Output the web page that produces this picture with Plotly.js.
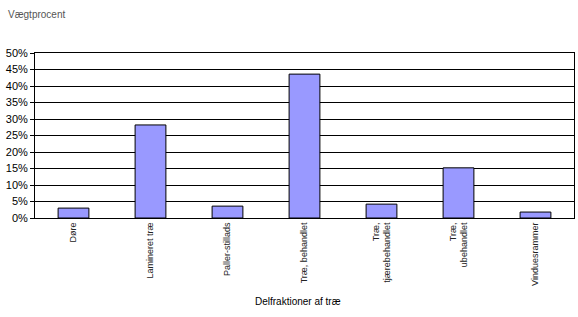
<!DOCTYPE html>
<html>
<head>
<meta charset="utf-8">
<script src="https://cdn.plot.ly/plotly-3.0.1.min.js"></script>
<style>html,body{margin:0;padding:0;background:#fff;}#chart{width:578px;height:317px;}</style>
</head>
<body>
<div id="chart"></div>
<script>
const categories = ["Døre", "Lamineret træ", "Paller-stillads", "Træ, behandlet", "Træ,<br>tjærebehandlet", "Træ,<br>ubehandlet", "Vinduesrammer"];
const values = [0.030, 0.282, 0.036, 0.436, 0.042, 0.152, 0.018];
const yTickVals = [0, 0.05, 0.10, 0.15, 0.20, 0.25, 0.30, 0.35, 0.40, 0.45, 0.50];
const yTickText = ["0%", "5%", "10%", "15%", "20%", "25%", "30%", "35%", "40%", "45%", "50%"];
const yTitle = "Vægtprocent";
const xTitle = "Delfraktioner af træ";

const trace = {
  type: "bar",
  x: categories,
  y: values,
  width: 0.4,
  marker: {color: "#9999ff", line: {color: "#000000", width: 1}},
  hoverinfo: "none"
};

const layout = {
  width: 578, height: 317,
  margin: {l: 35, r: 4, t: 53, b: 99},
  paper_bgcolor: "#ffffff",
  plot_bgcolor: "#ffffff",
  showlegend: false,
  bargap: 0.6,
  font: {family: "Arial, Liberation Sans, sans-serif", color: "#000"},
  xaxis: {
    type: "category",
    tickangle: -90,
    tickfont: {size: 9, color: "#222"},
    showline: true, linecolor: "#000", linewidth: 1, mirror: true,
    ticks: "", showgrid: false, zeroline: false,
    fixedrange: true
  },
  yaxis: {
    range: [0, 0.5],
    tickvals: yTickVals,
    ticktext: yTickText,
    tickfont: {size: 11, color: "#000"},
    showgrid: true, gridcolor: "#000", gridwidth: 1,
    showline: true, linecolor: "#000", linewidth: 1, mirror: true,
    ticks: "outside", ticklen: 4, tickcolor: "#000",
    zeroline: false,
    fixedrange: true
  },
  annotations: [
    {text: yTitle, xref: "paper", yref: "paper", x: -35/539, y: 1 + 39/165,
     xanchor: "left", yanchor: "middle", showarrow: false, xshift: 6,
     font: {size: 10, color: "#555", family: "Liberation Sans, Arial, sans-serif"}},
    {text: xTitle, xref: "paper", yref: "paper", x: (297.5 - 35)/539, y: -(302 - 218.3)/165,
     xanchor: "center", yanchor: "middle", showarrow: false,
     font: {size: 10, color: "#000"}}
  ]
};

Plotly.newPlot("chart", [trace], layout, {displayModeBar: false, staticPlot: true});
</script>
</body>
</html>
